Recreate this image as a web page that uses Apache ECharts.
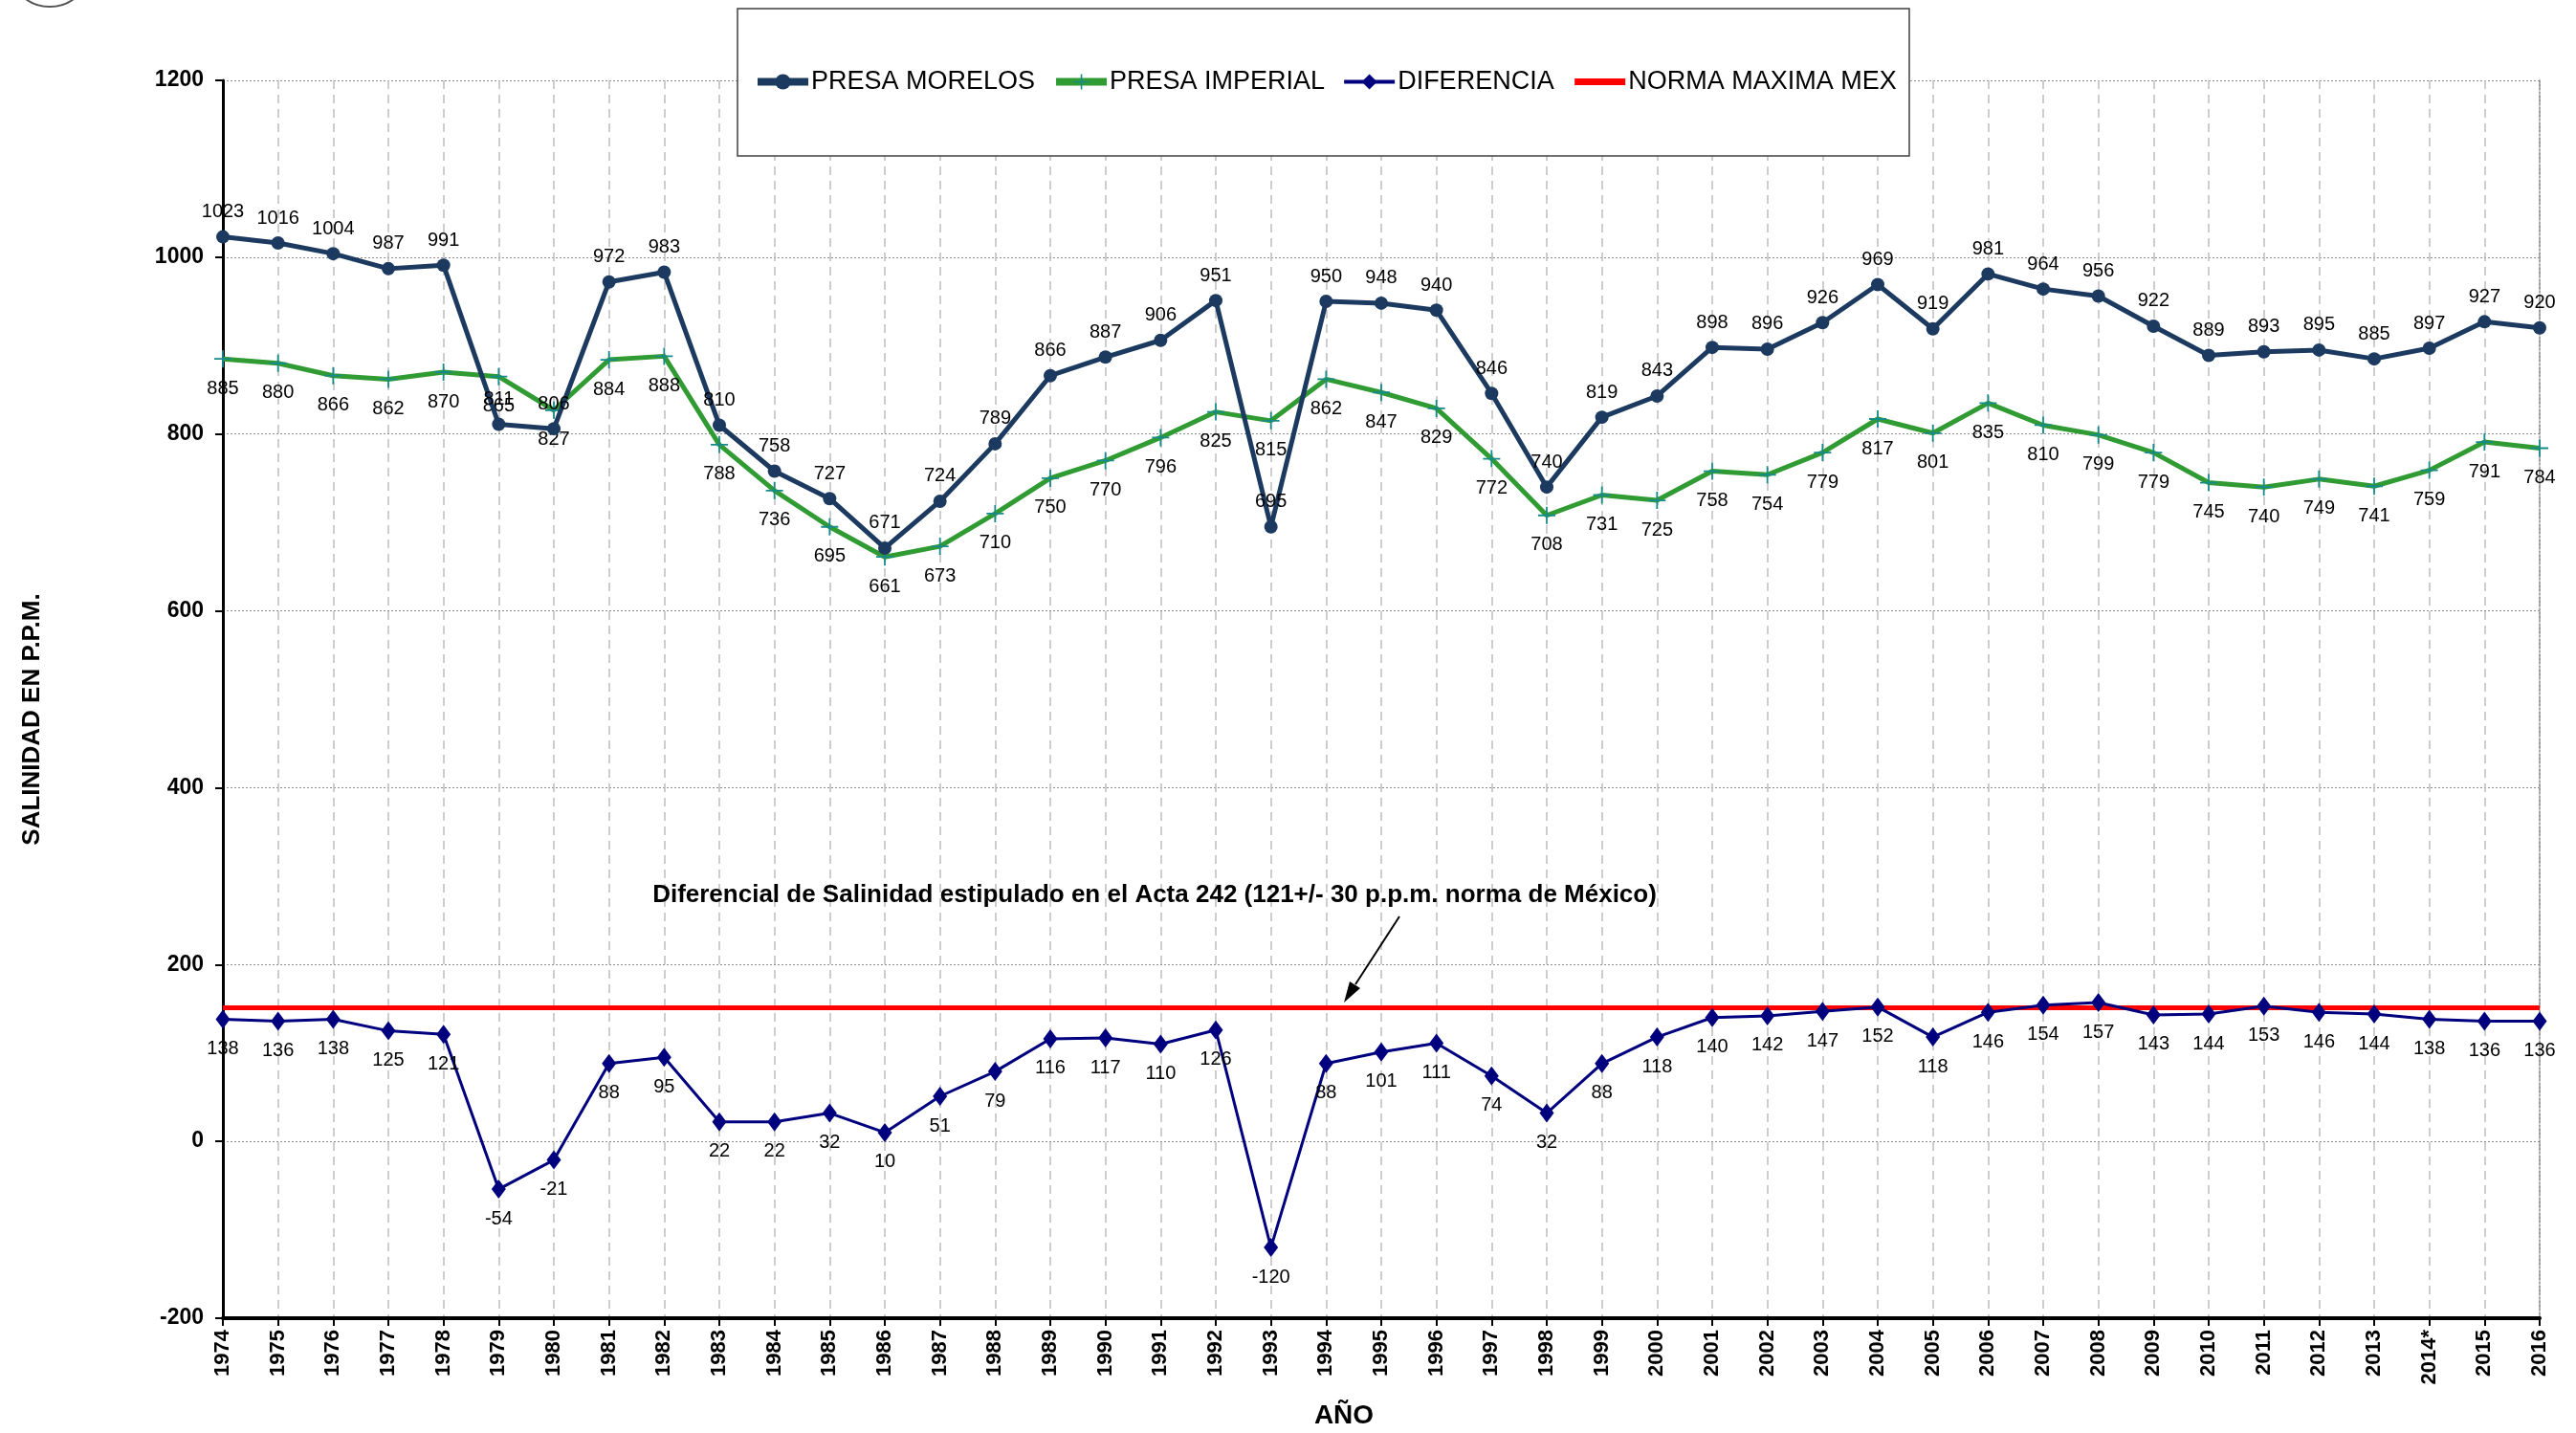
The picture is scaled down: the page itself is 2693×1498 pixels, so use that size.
<!DOCTYPE html>
<html>
<head>
<meta charset="utf-8">
<script src="https://cdn.jsdelivr.net/npm/echarts@6/dist/echarts.min.js"></script>
<style>
  html, body { margin: 0; padding: 0; background: #ffffff; }
  #chart { width: 2693px; height: 1498px; }
</style>
</head>
<body>
<div id="chart"></div>
<script>
// Años de muestreo
const years = ['1974','1975','1976','1977','1978','1979','1980','1981','1982','1983',
  '1984','1985','1986','1987','1988','1989','1990','1991','1992','1993',
  '1994','1995','1996','1997','1998','1999','2000','2001','2002','2003',
  '2004','2005','2006','2007','2008','2009','2010','2011','2012','2013',
  '2014*','2015','2016'];

// Salinidad promedio anual (p.p.m.)
const presaMorelos = [1023,1016,1004,987,991,811,806,972,983,810,
  758,727,671,724,789,866,887,906,951,695,
  950,948,940,846,740,819,843,898,896,926,
  969,919,981,964,956,922,889,893,895,885,
  897,927,920];

const presaImperial = [885,880,866,862,870,865,827,884,888,788,
  736,695,661,673,710,750,770,796,825,815,
  862,847,829,772,708,731,725,758,754,779,
  817,801,835,810,799,779,745,740,749,741,
  759,791,784];

const diferencia = [138,136,138,125,121,-54,-21,88,95,22,
  22,32,10,51,79,116,117,110,126,-120,
  88,101,111,74,32,88,118,140,142,147,
  152,118,146,154,157,143,144,153,146,144,
  138,136,136];

// Norma de México: 121 +/- 30 p.p.m.
const normaMaxima = 151;

const yMin = -200, yMax = 1200, yStep = 200;

const FONT = 'Arial, "Liberation Sans", sans-serif';
const C_MORELOS = '#1C3A5F';
const C_IMPERIAL = '#2F9B32';
const C_PLUS = '#178A8A';
const C_DIF = '#00007F';
const C_NORMA = '#FF0000';

const plusPath = 'path://M4.5,0h1v4.5h4.5v1h-4.5v4.5h-1v-4.5h-4.5v-1h4.5z';

const labelStyle = { color: '#000', fontSize: 20, fontFamily: FONT };

const chart = echarts.init(document.getElementById('chart'), null, { renderer: 'canvas' });

chart.setOption({
  backgroundColor: '#ffffff',
  animation: false,
  textStyle: { fontFamily: FONT },
  grid: { left: 233, right: 38, top: 84, bottom: 120, containLabel: false },
  legend: {
    left: 788,
    top: 72,
    z: 10,
    padding: 0,
    itemWidth: 53,
    itemHeight: 20,
    itemGap: 18,
    textStyle: { fontSize: 27, color: '#000', fontFamily: FONT, padding: [0, 0, 0, -2] },
    data: [
      { name: 'PRESA MORELOS', lineStyle: { width: 8 } },
      { name: 'PRESA IMPERIAL', lineStyle: { width: 8 } },
      { name: 'DIFERENCIA', lineStyle: { width: 4 } },
      { name: 'NORMA MAXIMA MEX', lineStyle: { width: 7 }, itemStyle: { opacity: 0 } }
    ]
  },
  xAxis: {
    type: 'category',
    data: years,
    boundaryGap: false,
    axisLine: { onZero: false, lineStyle: { color: '#000', width: 4 } },
    axisTick: { show: true, length: 8, inside: false, interval: 0, lineStyle: { color: '#000', width: 2 } },
    axisLabel: {
      interval: 0, rotate: 90, margin: 12,
      fontSize: 22, fontWeight: 'bold', color: '#000', fontFamily: FONT
    },
    splitLine: { show: true, interval: 0, lineStyle: { color: '#BDBDBD', width: 1.5, type: [9, 6] } }
  },
  yAxis: [{
    type: 'value',
    min: yMin, max: yMax, interval: yStep,
    axisLine: { show: true, lineStyle: { color: '#000', width: 3 } },
    axisTick: { show: true, length: 8, lineStyle: { color: '#000', width: 2 } },
    axisLabel: {
      margin: 20, fontSize: 23, fontWeight: 'bold', color: '#000', fontFamily: FONT,
      formatter: v => String(v)
    },
    splitLine: { show: true, lineStyle: { color: '#8A8A8A', width: 1, type: [2, 2] } }
  }, {
    type: 'value',
    position: 'right',
    min: yMin, max: yMax, interval: yStep,
    axisLine: { show: true, lineStyle: { color: '#8A8A8A', width: 1.5, type: [2, 2] } },
    axisTick: { show: false },
    axisLabel: { show: false },
    splitLine: { show: false }
  }],
  series: [
    {
      name: 'PRESA MORELOS',
      type: 'line',
      data: presaMorelos,
      z: 4,
      symbol: 'circle',
      symbolSize: 14,
      lineStyle: { color: C_MORELOS, width: 5 },
      itemStyle: { color: C_MORELOS },
      label: { show: true, position: 'top', distance: 9, ...labelStyle },
      labelLayout: { hideOverlap: false }
    },
    {
      name: 'PRESA IMPERIAL',
      type: 'line',
      data: presaImperial,
      z: 3,
      symbol: plusPath,
      symbolSize: 18,
      lineStyle: { color: C_IMPERIAL, width: 5 },
      itemStyle: { color: C_PLUS },
      label: { show: true, position: 'bottom', distance: 12, ...labelStyle },
      labelLayout: { hideOverlap: false }
    },
    {
      name: 'DIFERENCIA',
      type: 'line',
      data: diferencia,
      z: 5,
      symbol: 'diamond',
      symbolSize: [15, 20],
      lineStyle: { color: C_DIF, width: 3 },
      itemStyle: { color: C_DIF },
      label: { show: true, position: 'bottom', distance: 11, ...labelStyle },
      labelLayout: { hideOverlap: false }
    },
    {
      name: 'NORMA MAXIMA MEX',
      type: 'line',
      data: [],
      z: 4,
      symbol: 'none',
      lineStyle: { color: C_NORMA, width: 5 },
      itemStyle: { color: C_NORMA },
      markLine: {
        silent: true,
        symbol: ['none', 'none'],
        label: { show: false },
        lineStyle: { color: C_NORMA, width: 5, type: 'solid' },
        data: [{ yAxis: normaMaxima }]
      }
    }
  ],
  graphic: [
    {
      type: 'rect', z: 1,
      shape: { x: 771, y: 9, width: 1225, height: 154 },
      style: { fill: '#ffffff', stroke: '#404040', lineWidth: 1.5 }
    },
    {
      type: 'ellipse', z: 1,
      shape: { cx: 52, cy: -38, rx: 44, ry: 45 },
      style: { fill: 'none', stroke: '#555555', lineWidth: 2 }
    },
    {
      type: 'text', z: 10,
      x: 34, y: 752, rotation: Math.PI / 2,
      style: {
        text: 'SALINIDAD EN P.P.M.', fill: '#000', font: 'bold 26px ' + FONT,
        align: 'center', verticalAlign: 'middle'
      }
    },
    {
      type: 'text', z: 10,
      x: 1405, y: 1480,
      style: {
        text: 'AÑO', fill: '#000', font: 'bold 28px ' + FONT,
        align: 'center', verticalAlign: 'middle'
      }
    },
    {
      type: 'text', z: 10,
      x: 1207, y: 936,
      style: {
        text: 'Diferencial de Salinidad estipulado en el Acta 242 (121+/- 30 p.p.m. norma de México)',
        fill: '#000', font: 'bold 26px ' + FONT,
        align: 'center', verticalAlign: 'middle'
      }
    },
    {
      type: 'line', z: 10,
      shape: { x1: 1463, y1: 958, x2: 1417, y2: 1029 },
      style: { stroke: '#000', lineWidth: 2 }
    },
    {
      type: 'polygon', z: 10,
      shape: { points: [[1405, 1048], [1422, 1033], [1411, 1026]] },
      style: { fill: '#000' }
    }
  ]
});
</script>
</body>
</html>
